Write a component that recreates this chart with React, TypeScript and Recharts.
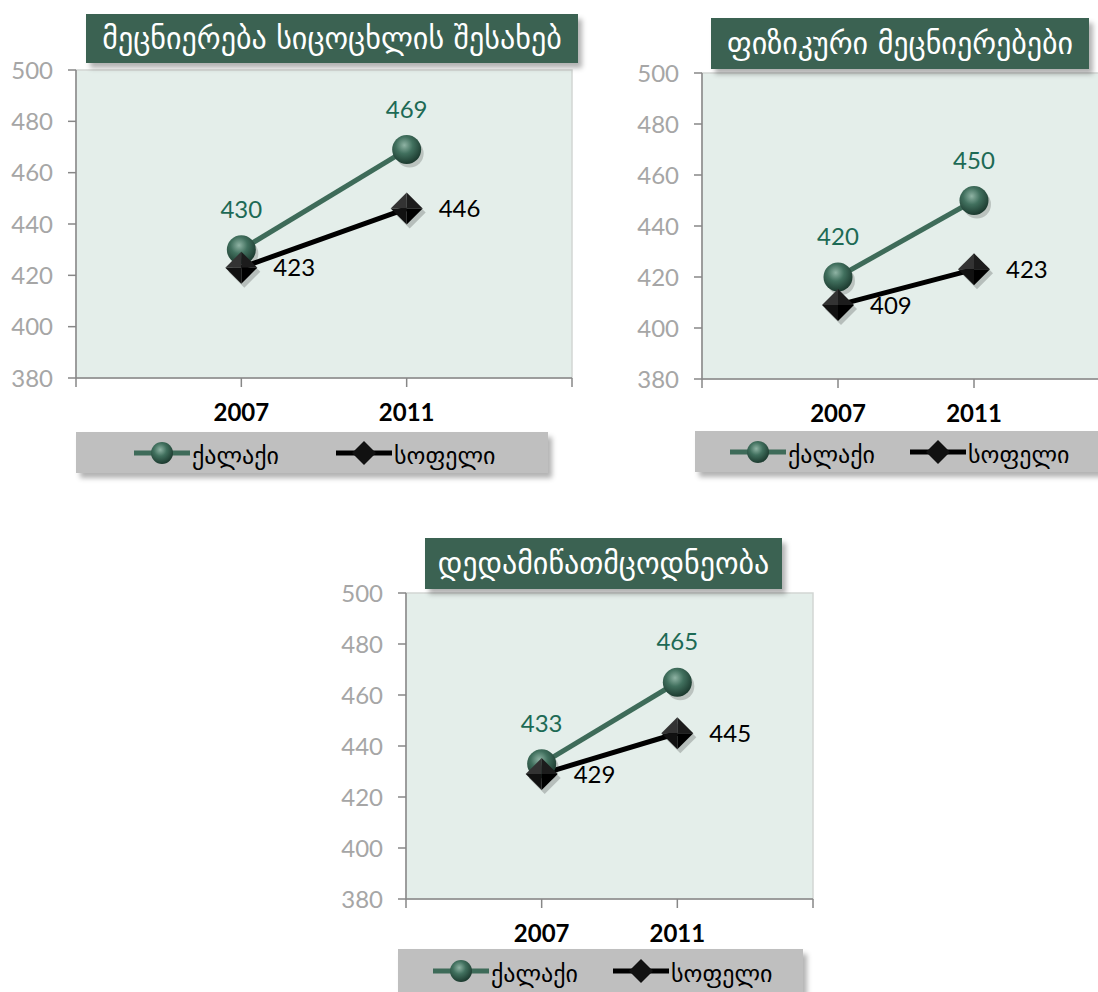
import React from 'react';
import { LineChart, Line, XAxis, YAxis, ReferenceArea, LabelList } from 'recharts';

// categories and series (PISA-style scores, city vs village)
const years = ['2007', '2011'];
const yTicks = [380, 400, 420, 440, 460, 480, 500];
const seriesNames = ['ქალაქი', 'სოფელი'];

const lifeTitle = 'მეცნიერება სიცოცხლის შესახებ';
const lifeCity = [430, 469];
const lifeVillage = [423, 446];

const physTitle = 'ფიზიკური მეცნიერებები';
const physCity = [420, 450];
const physVillage = [409, 423];

const earthTitle = 'დედამიწათმცოდნეობა';
const earthCity = [433, 465];
const earthVillage = [429, 445];

const GREEN = '#3e6b59';
const TITLE_BG = '#3b6252';
const PLOT_BG = '#e4eeea';
const AXIS = '#878787';
const NUM_FONT = 'Lato, "Noto Sans", sans-serif';
const GEO_FONT = '"DejaVu Sans", sans-serif';

const Y_AXIS_W = 80;
const TOP = 22;
const RIGHT = 10;
const X_AXIS_H = 60;

// empty categories at both ends so the years sit on inner tick marks
const buildRows = (city: number[], village: number[]) => [
  { year: 'start', city: null, village: null },
  ...years.map((y, i) => ({ year: y, city: city[i], village: village[i] })),
  { year: 'end', city: null, village: null },
];

const sphere = (id: string) => (props: any) => {
  const { cx, cy, value, index } = props;
  if (value == null || cx == null || cy == null) return <g key={`s-${index}`} />;
  const gid = `sph-${id}-${index}`;
  return (
    <g key={`s-${index}`}>
      <defs>
        <radialGradient id={gid} cx="42%" cy="35%" r="65%">
          <stop offset="0" stopColor="#8fb3a4" />
          <stop offset="0.45" stopColor="#41705e" />
          <stop offset="1" stopColor="#1c3a2f" />
        </radialGradient>
      </defs>
      <circle cx={cx + 3} cy={cy + 4} r={14} fill="rgba(0,0,0,0.18)" />
      <circle cx={cx} cy={cy} r={14.5} fill={`url(#${gid})`} />
    </g>
  );
};

const diamond = (props: any) => {
  const { cx, cy, value, index } = props;
  if (value == null || cx == null || cy == null) return <g key={`d-${index}`} />;
  const h = 16;
  return (
    <g key={`d-${index}`}>
      <polygon
        points={`${cx + 3},${cy - h + 4} ${cx + h + 3},${cy + 4} ${cx + 3},${cy + h + 4} ${cx - h + 3},${cy + 4}`}
        fill="rgba(0,0,0,0.2)"
      />
      <polygon points={`${cx},${cy - h} ${cx - h},${cy} ${cx},${cy}`} fill="#333" />
      <polygon points={`${cx},${cy - h} ${cx + h},${cy} ${cx},${cy}`} fill="#1c1c1c" />
      <polygon points={`${cx},${cy + h} ${cx + h},${cy} ${cx},${cy}`} fill="#000" />
      <polygon points={`${cx},${cy + h} ${cx - h},${cy} ${cx},${cy}`} fill="#111" />
    </g>
  );
};

const LegendIcon = ({ kind }: { kind: 'sphere' | 'diamond' }) => (
  <svg width={56} height={24} style={{ display: 'block' }}>
    <defs>
      <radialGradient id="leg-sph" cx="42%" cy="35%" r="65%">
        <stop offset="0" stopColor="#8fb3a4" />
        <stop offset="0.45" stopColor="#41705e" />
        <stop offset="1" stopColor="#1c3a2f" />
      </radialGradient>
    </defs>
    <line x1={0} y1={12} x2={56} y2={12} stroke={kind === 'sphere' ? GREEN : '#000'} strokeWidth={5} />
    {kind === 'sphere' ? (
      <circle cx={28} cy={12} r={11} fill="url(#leg-sph)" />
    ) : (
      <polygon points="28,0 40,12 28,24 16,12" fill="#111" />
    )}
  </svg>
);

type Box = { x: number; y: number; w: number; h: number };

type PanelProps = {
  id: string;
  title: string;
  city: number[];
  village: number[];
  plot: { x0: number; x1: number; y0: number; y1: number };
  titleBox: Box;
  legendBox: Box & { item1: number; item2: number };
};

const Panel = ({ id, title, city, village, plot, titleBox, legendBox }: PanelProps) => {
  const rows = buildRows(city, village);
  const width = plot.x1 - plot.x0 + Y_AXIS_W + RIGHT;
  const height = TOP + (plot.y1 - plot.y0) + X_AXIS_H;
  return (
    <>
      <div style={{ position: 'absolute', left: plot.x0 - Y_AXIS_W, top: plot.y0 - TOP }}>
        <LineChart width={width} height={height} data={rows} margin={{ top: TOP, right: RIGHT, bottom: 0, left: 0 }}>
          <ReferenceArea y1={380} y2={500} fill={PLOT_BG} fillOpacity={1} stroke="#d2d6d4" strokeWidth={1.5} />
          <XAxis
            dataKey="year"
            type="category"
            scale="point"
            interval={0}
            height={X_AXIS_H}
            tickFormatter={(v: string) => (years.includes(v) ? v : '')}
            tick={{ fill: '#000', fontSize: 24, fontWeight: 700 }}
            tickSize={9}
            tickMargin={17}
            tickLine={{ stroke: AXIS, strokeWidth: 1.5 }}
            axisLine={{ stroke: AXIS, strokeWidth: 1.5 }}
          />
          <YAxis
            type="number"
            domain={[380, 500]}
            ticks={yTicks}
            width={Y_AXIS_W}
            tick={{ fill: '#a6a6a6', fontSize: 24 }}
            tickSize={8}
            tickMargin={15}
            tickLine={{ stroke: AXIS, strokeWidth: 1.5 }}
            axisLine={{ stroke: AXIS, strokeWidth: 1.5 }}
          />
          <Line
            dataKey="city"
            name={seriesNames[0]}
            stroke={GREEN}
            strokeWidth={5}
            dot={sphere(id)}
            activeDot={false}
            isAnimationActive={false}
          >
            <LabelList dataKey="city" position="top" offset={32} fill="#1d6a55" fontSize={24} />
          </Line>
          <Line
            dataKey="village"
            name={seriesNames[1]}
            stroke="#000"
            strokeWidth={5}
            dot={diamond}
            activeDot={false}
            isAnimationActive={false}
          >
            <LabelList dataKey="village" position="right" offset={32} fill="#000" fontSize={24} />
          </Line>
        </LineChart>
      </div>
      <div
        style={{
          position: 'absolute',
          left: titleBox.x,
          top: titleBox.y,
          width: titleBox.w,
          height: titleBox.h,
          background: TITLE_BG,
          color: '#fff',
          fontFamily: GEO_FONT,
          fontSize: 30,
          display: 'flex',
          alignItems: 'center',
          justifyContent: 'center',
          whiteSpace: 'nowrap',
          boxShadow: '4px 5px 5px rgba(0,0,0,0.3)',
        }}
      >
        {title}
      </div>
      <div
        style={{
          position: 'absolute',
          left: legendBox.x,
          top: legendBox.y,
          width: legendBox.w,
          height: legendBox.h,
          background: '#bfbfbf',
          boxShadow: '4px 5px 5px rgba(0,0,0,0.3)',
          fontFamily: GEO_FONT,
          fontSize: 24,
          color: '#000',
        }}
      >
        {[0, 1].map((k) => (
          <div
            key={k}
            style={{
              position: 'absolute',
              left: k === 0 ? legendBox.item1 : legendBox.item2,
              top: 0,
              height: legendBox.h,
              display: 'flex',
              alignItems: 'center',
              gap: 2,
            }}
          >
            <LegendIcon kind={k === 0 ? 'sphere' : 'diamond'} />
            <span style={{ marginTop: 6 }}>{seriesNames[k]}</span>
          </div>
        ))}
      </div>
    </>
  );
};

export default function App() {
  return (
    <div
      style={{
        position: 'absolute',
        left: 0,
        top: 0,
        width: 1098,
        height: 992,
        overflow: 'hidden',
        background: '#fff',
        fontFamily: NUM_FONT,
      }}
    >
      <Panel
        id="life"
        title={lifeTitle}
        city={lifeCity}
        village={lifeVillage}
        plot={{ x0: 76, x1: 572, y0: 70, y1: 378 }}
        titleBox={{ x: 86, y: 14, w: 492, h: 49 }}
        legendBox={{ x: 76, y: 432, w: 472, h: 41, item1: 58, item2: 260 }}
      />
      <Panel
        id="phys"
        title={physTitle}
        city={physCity}
        village={physVillage}
        plot={{ x0: 702, x1: 1110, y0: 73, y1: 379 }}
        titleBox={{ x: 711, y: 18, w: 378, h: 51 }}
        legendBox={{ x: 695, y: 431, w: 430, h: 41, item1: 35, item2: 215 }}
      />
      <Panel
        id="earth"
        title={earthTitle}
        city={earthCity}
        village={earthVillage}
        plot={{ x0: 406, x1: 813, y0: 593, y1: 899 }}
        titleBox={{ x: 425, y: 538, w: 357, h: 51 }}
        legendBox={{ x: 398, y: 949, w: 405, h: 43, item1: 35, item2: 215 }}
      />
    </div>
  );
}
